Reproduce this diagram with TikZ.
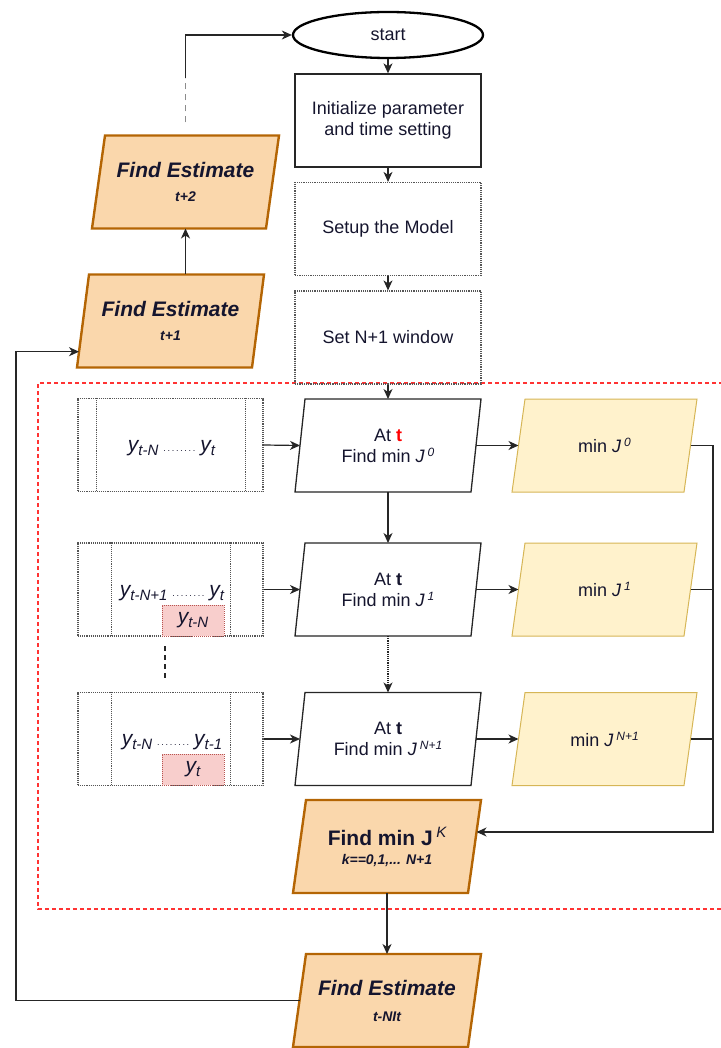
\documentclass[tikz,border=0pt]{standalone}
\usepackage{fontspec}
\setmainfont{Liberation Sans}
\usetikzlibrary{shapes.geometric,arrows.meta,calc}
\definecolor{txt}{HTML}{15152E}
\definecolor{orfill}{HTML}{FAD7AC}
\definecolor{ordraw}{HTML}{B46504}
\definecolor{yelfill}{HTML}{FFF2CC}
\definecolor{yeldraw}{HTML}{D6B656}
\definecolor{pinkfill}{HTML}{F8CECC}
\definecolor{pinkdraw}{HTML}{B85450}
\definecolor{reddash}{HTML}{FF3333}
\definecolor{dotgray}{HTML}{555555}
\pgfdeclarelayer{bg}
\pgfsetlayers{bg,main}
\newcommand\mysup[1]{\raisebox{6pt}{\fontsize{12}{12}\selectfont\mdseries\itshape #1}}
\newcommand\mysupb[1]{\raisebox{8pt}{\fontsize{15}{15}\selectfont\mdseries\itshape #1}}
\newcommand\myy[1]{{\fontsize{21}{21}\selectfont\itshape y}\raisebox{-4pt}{\fontsize{15}{15}\selectfont\itshape #1}}
\newcommand\mydots{\hbox to 32pt{\hss\fontsize{9}{9}\selectfont.\hfill.\hfill.\hfill.\hfill.\hfill.\hfill.\hfill.\hss}}
\newcommand\parashape[3]{%
  \begin{pgfonlayer}{bg}
  \path[#3] ([xshift=#2]#1.north west) -- (#1.north east) -- ([xshift=-#2]#1.south east) -- (#1.south west) -- cycle;
  \end{pgfonlayer}}
\tikzset{
  base/.style={font=\fontsize{18}{21}\selectfont, text=txt, align=center, inner sep=2pt},
  procbox/.style={base, rectangle, draw=black!85, line width=1.3pt, minimum width=186pt, minimum height=93pt},
  dotbox/.style={base, rectangle, draw=dotgray, densely dotted, line width=1.2pt, minimum width=186pt, minimum height=93pt},
  parabox/.style={base, rectangle, outer sep=0pt, minimum width=#1, minimum height=93pt},
  whiteline/.style={draw=black!85, line width=1.3pt, fill=white},
  yelline/.style={draw=yeldraw, line width=1pt, fill=yelfill},
  orline/.style={draw=ordraw, line width=2.4pt, fill=orfill},
  winbox/.style={base, rectangle, draw=dotgray, densely dotted, line width=1.1pt, minimum width=185pt, minimum height=93pt},
  winline/.style={draw=dotgray, densely dotted, line width=1.1pt},
  pinkbox/.style={base, rectangle, draw=pinkdraw, densely dotted, line width=1pt, fill=pinkfill, minimum width=62pt, minimum height=31pt, inner sep=0pt},
  line/.style={draw=black!85, line width=1.2pt},
  conn/.style={line, -{Stealth[length=10pt,width=9pt,inset=3pt]}},
  dotconn/.style={conn, densely dotted},
}
\begin{document}
\begin{tikzpicture}[x=1pt,y=-1pt]
\useasboundingbox (0,0) rectangle (720,1048);
% red dashed frame
\draw[reddash, line width=1.3pt, dash pattern=on 4pt off 3pt] (730,383) -- (38,383) -- (38,909) -- (730,909);

% main column
\node[base, ellipse, draw=black, line width=2.3pt, minimum width=190pt, minimum height=46pt] (start) at (388,35) {start};
\node[procbox] (init) at (388,120.5) {Initialize parameter\\and time setting};
\node[dotbox] (setup) at (388,229) {Setup the Model};
\node[dotbox] (setn) at (388,337.5) {Set N+1 window};

\node[parabox=186pt] (p0) at (388,445.5) {At \textcolor{red}{\bfseries t}\\Find min \textit{J}\,\mysup{0}};
\node[parabox=186pt] (p1) at (388,589.5) {At \textbf{t}\\Find min \textit{J}\,\mysup{1}};
\node[parabox=186pt] (p3) at (388,739) {At \textbf{t}\\Find min \textit{J}\,\mysup{N+1}};
\parashape{p0}{10pt}{whiteline}
\parashape{p1}{10pt}{whiteline}
\parashape{p3}{10pt}{whiteline}

\node[parabox=185pt] (y0) at (604.5,445.5) {min \textit{J}\,\mysup{0}};
\node[parabox=185pt] (y1) at (604.5,589.5) {min \textit{J}\,\mysup{1}};
\node[parabox=185pt] (y3) at (604.5,739) {min \textit{J}\,\mysup{N+1}};
\parashape{y0}{13pt}{yelline}
\parashape{y1}{13pt}{yelline}
\parashape{y3}{13pt}{yelline}

% windows
\node[winbox] (w0) at (170.5,445) {};
\draw[winline] ([xshift=19pt]w0.north west) -- ([xshift=19pt]w0.south west);
\draw[winline] ([xshift=-18pt]w0.north east) -- ([xshift=-18pt]w0.south east);
\node[base] (l0) at (171.5,448) {\myy{t-N}\;\mydots\;\myy{t}};

\node[winbox] (w1) at (170.5,589.5) {};
\draw[winline] ([xshift=34pt]w1.north west) -- ([xshift=34pt]w1.south west);
\draw[winline] ([xshift=-33pt]w1.north east) -- ([xshift=-33pt]w1.south east);
\node[base] (l1) at (172,593) {\myy{t-N+1}\;\mydots\;\myy{t}};
\node[pinkbox] (k1) at (193,620.5) {\myy{t-N}};

\node[winbox] (w3) at (170.5,739) {};
\draw[winline] ([xshift=34pt]w3.north west) -- ([xshift=34pt]w3.south west);
\draw[winline] ([xshift=-33pt]w3.north east) -- ([xshift=-33pt]w3.south east);
\node[base] (l3) at (172,742) {\myy{t-N}\;\mydots\;\myy{t-1}};
\node[pinkbox] (k3) at (193,769.5) {\myy{t}};

\coordinate (v1) at (165,646);
\coordinate (v2) at (165,681);
\draw[black!85, line width=2pt, dash pattern=on 5pt off 4pt] (v1) -- (v2);

% result
\node[parabox=188pt] (k) at (387,846.5) {{\fontsize{21}{24}\selectfont\bfseries Find min J\,\mysupb{K}}\\[-2pt]{\fontsize{14}{16}\selectfont\bfseries\itshape k==0,1,... N+1}};
\node[parabox=188pt] (fe) at (387,1000.5) {{\fontsize{21}{24}\selectfont\bfseries\itshape Find Estimate}\\[5pt]{\fontsize{14}{16}\selectfont\bfseries\itshape t-NIt}};
\parashape{k}{13pt}{orline}
\parashape{fe}{13pt}{orline}

% left estimates
\node[parabox=187pt] (t2) at (185.5,182) {{\fontsize{21}{24}\selectfont\bfseries\itshape Find Estimate}\\[3pt]{\fontsize{14}{16}\selectfont\bfseries\itshape t+2}};
\node[parabox=187pt] (t1) at (170.5,321) {{\fontsize{21}{24}\selectfont\bfseries\itshape Find Estimate}\\[3pt]{\fontsize{14}{16}\selectfont\bfseries\itshape t+1}};
\parashape{t2}{13pt}{orline}
\parashape{t1}{12pt}{orline}

% connectors main column
\draw[conn] (start.south) -- (init.north);
\draw[conn] (init.south) -- (setup.north);
\draw[conn] (setup.south) -- (setn.north);
\draw[conn] (setn.south) -- (p0.north);
\draw[conn] (p0.south) -- (p1.north);
\draw[dotconn] (p1.south) -- (p3.north);
\draw[conn] (k.south) -- (fe.north);

\draw[conn] (w0.east) -- ([xshift=5pt]p0.west);
\draw[conn] (w1.east) -- ([xshift=5pt]p1.west);
\draw[conn] (w3.east) -- ([xshift=5pt]p3.west);
\draw[conn] ([xshift=-5pt]p0.east) -- ([xshift=6.5pt]y0.west);
\draw[conn] ([xshift=-5pt]p1.east) -- ([xshift=6.5pt]y1.west);
\draw[conn] ([xshift=-5pt]p3.east) -- ([xshift=6.5pt]y3.west);

% right trunk
\coordinate (trunk) at (713,446);
\coordinate (kin) at ($(k.north east)!0.344!([xshift=-13pt]k.south east)$);
\draw[conn] ([xshift=-6.5pt]y0.east) -| (kin -| trunk) -- (kin);
\draw[line] ([xshift=-6.5pt]y1.east) -- (y1.east -| trunk);
\draw[line] ([xshift=-6.5pt]y3.east) -- (y3.east -| trunk);

% left loop
\coordinate (lx) at (16,352);
\coordinate (t1in) at ($(t1.south west)!0.17!([xshift=12pt]t1.north west)$);
\draw[conn] ([xshift=6.5pt]fe.west) -| (t1in -| lx) -- (t1in);
\draw[conn] (t1.north -| t2.south) -- (t2.south);

% top connector
\path (t2.north) ++(0,-13) coordinate (d1) ++(0,-44) coordinate (d2);
\draw[black!45, line width=1.2pt, dash pattern=on 6pt off 5pt] (d1) -- (d2);
\draw[conn] (d2) |- (start.west);
\end{tikzpicture}
\end{document}
